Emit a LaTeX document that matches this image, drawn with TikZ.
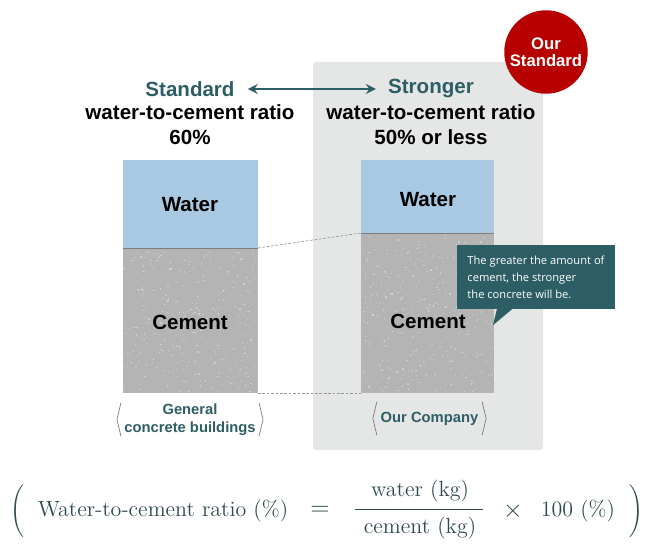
\documentclass[tikz,border=0pt]{standalone}
\usepackage{amsmath}
\usepackage{fontspec}
\setsansfont{Liberation Sans}
\newfontfamily\notefont{Open Sans}
\usepackage{tikz}
\usetikzlibrary{calc}
\definecolor{MyTeal}{RGB}{46,94,101}
\definecolor{MyPanel}{RGB}{229,231,230}
\definecolor{MyWater}{RGB}{169,200,225}
\definecolor{MyCement}{RGB}{180,180,180}
\definecolor{MyRed}{RGB}{183,0,0}
\definecolor{MyInk}{RGB}{47,74,78}
\definecolor{MyDarkGrey}{RGB}{125,125,125}

\begin{document}
\begin{tikzpicture}[x=0.02cm,y=-0.02cm]
       \tikzstyle{every node}=[font=\sffamily\bfseries\fontsize{11.7}{14.2}\selectfont]
       \tikzstyle{head}=[text=MyTeal]
       \tikzstyle{tag}=[text=MyTeal, font=\sffamily\bfseries\fontsize{8.4}{10.2}\selectfont, inner sep=0pt, align=center, minimum height=18.7pt]
       \tikzstyle{bracket}=[draw=MyDarkGrey, thin]
       \tikzstyle{formula}=[text=MyInk, font=\fontsize{12.5}{14}\selectfont]
       \tikzstyle{guide}=[draw=MyDarkGrey!80, thin, dash pattern=on 1.5pt off 1pt]
        \useasboundingbox (0,0) rectangle (650,550);
        \fill[MyPanel, rounded corners=2pt] (313,62) rectangle (543,450);
        \node[circle, fill=MyRed, text=white, minimum size=47.5pt, inner sep=0pt, align=center,
          font=\sffamily\bfseries\fontsize{9.5}{9.6}\selectfont] (badge) at (546,52) {Our\\Standard};
        % headings
        \node[head] (std) at (190,89) {Standard};
        \node[align=center] (stdratio) at (190,124.5) {water-to-cement ratio\\60\%};
        \node[head] (strg) at (431,89) {Stronger};
        \node[align=center] (strgratio) at (431,124.5) {water-to-cement ratio\\50\% or less};
        \draw[<->, >=stealth, draw=MyTeal, line width=1.5pt, shorten <=4pt, shorten >=3.5pt] (std) -- (strg);
        % bars
        \fill[MyWater] (123,160) rectangle (258,248);
        \fill[MyCement] (123,248) rectangle (258,393);
        \fill[MyWater] (361,160) rectangle (494,233);
        \fill[MyCement] (361,233) rectangle (494,393);
        \pgfmathsetseed{7}
        \foreach \i in {1,...,380} {
          \fill[white, opacity=.35] ({124+132*rnd},{250+141*rnd}) rectangle +(1.2,1.2);
          \fill[white, opacity=.35] ({362+130*rnd},{235+156*rnd}) rectangle +(1.2,1.2);
        }
        \draw[MyDarkGrey] (123,248) -- (258,248);
        \draw[MyDarkGrey] (361,233) -- (494,233);
        \coordinate (lmid) at (258,248);
        \coordinate (lbot) at (258,393);
        \coordinate (rmid) at (361,233);
        \coordinate (rbot) at (361,393);
        \draw[guide] (lmid) -- (rmid);
        \draw[guide] (lbot) -- (rbot);
        \node (lwater) at (190,205) {Water};
        \node (lcement) at (190,322) {Cement};
        \node (rwater) at (428,200) {Water};
        \node (rcement) at (428,321) {Cement};
        % callout
        \node[fill=MyTeal, text=white, align=left, minimum width=89.6pt, minimum height=36.3pt,
          font=\notefont\fontsize{6.35}{9.6}\selectfont] (note) at (536,277)
          {The greater the amount of\\cement, the stronger\\the concrete will be.};
        \fill[MyTeal] ($(note.south west)+(40,0)$) -- ($(note.south west)+(55,0)$)
          -- ($(note.south west)+(36,16)$) -- cycle;
        % captions
        \node[tag, minimum width=78.2pt] (gen) at (190,419.5) {General\\concrete buildings};
        \node[tag, minimum width=59.5pt] (comp) at (429.5,418.5) {Our Company};
        \draw[bracket] (gen.north west) -- ($(gen.west)+(-4,0)$) -- (gen.south west);
        \draw[bracket] (gen.north east) -- ($(gen.east)+(4,0)$) -- (gen.south east);
        \draw[bracket] (comp.north west) -- ($(comp.west)+(-4,0)$) -- (comp.south west);
        \draw[bracket] (comp.north east) -- ($(comp.east)+(4,0)$) -- (comp.south east);
        % formula
        \node[formula, font=\fontsize{10}{12}\selectfont] (lpar) at (17,511) {$\Biggl($};
        \node[formula] (ratio) at (163,511) {Water-to-cement ratio (\%)};
        \node[formula, font=\fontsize{15}{16}\selectfont] (eq) at (320,511) {$=$};
        \node[formula] (num) at (420,491) {water (kg)};
        \node[formula] (den) at (420,528) {cement (kg)};
        \draw[MyInk, thin] (355,509) -- (483,509);
        \node[formula, font=\fontsize{15}{16}\selectfont] (times) at (513,511) {$\times$};
        \node[formula] (hundred) at (578,511) {100 (\%)};
        \node[formula, font=\fontsize{10}{12}\selectfont] (rpar) at (636,511) {$\Biggr)$};
      \end{tikzpicture}
\end{document}
